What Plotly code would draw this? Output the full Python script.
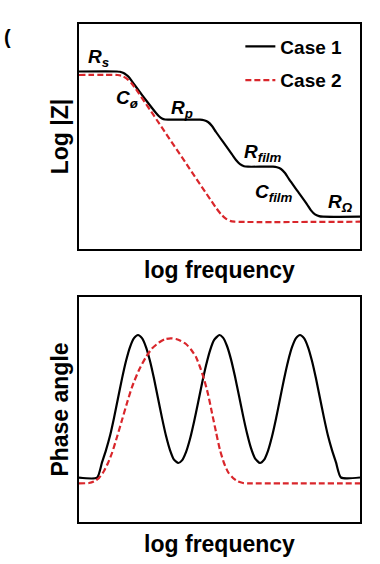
import plotly.graph_objects as go

# ---- data (arbitrary units: log frequency 0-281, log|Z| / phase 0-225) ----
freq_z_case1 = [0, 38, 41, 44, 47, 50, 53, 63.5, 74, 77, 80, 83, 86, 89, 121, 125, 129, 133, 137,
                145, 153, 157, 161, 165, 169, 194, 198, 202, 206, 210, 219, 228, 232, 236, 240, 244, 281]
logz_case1 = [177.5, 177.5, 177.2, 176.2, 174.4, 171.7, 167.6, 153.4, 139.75, 136, 132.7, 130.5, 129.5,
              129.3, 129.3, 128.7, 127, 123, 117, 105.8, 94.6, 89, 84.8, 82.8, 82.3, 82.3, 81.7, 80,
              76, 69.9, 57.3, 44.7, 38.6, 34.6, 32.9, 32.3, 32.3]

freq_z_case2 = [0, 38.4, 42.9, 47.4, 51.9, 56.4, 137.5, 142, 146.5, 151, 155.5, 281]
logz_case2 = [174, 174, 173.2, 170.6, 166.5, 160.6, 40.6, 34.8, 30.6, 28.1, 27.3, 27.3]

freq_p_case1 = [0, 18, 23, 27, 31, 35, 39, 43, 47, 51, 55, 59, 63, 67, 71, 75, 79, 83, 87, 91, 95,
                99.3, 103, 107, 111, 115, 119, 123, 127, 131, 135, 140.3, 144, 148, 152, 156, 160,
                164, 168, 172, 176, 181, 185, 189, 193, 197, 201, 205, 209, 213, 217, 221, 225,
                229, 233, 237, 241, 245, 249, 253, 257, 262, 281]
phase_case1 = [44.3, 44.3, 59.6, 71.9, 86.2, 104.1, 123.8, 143.4, 161.0, 175.0, 183.9, 187, 183.9,
               175.0, 161.0, 143.4, 123.8, 104.1, 86.2, 71.9, 62.3, 59, 61.6, 69.9, 83.0, 100.0,
               119.0, 138.5, 156.4, 171.4, 181.8, 187, 184.4, 176.0, 162.6, 145.4, 126.2, 106.6,
               88.7, 73.8, 63.7, 59, 62.1, 71.2, 85.4, 103.2, 123, 142.8, 160.6, 174.8, 183.9, 187,
               183.9, 175, 161, 143.4, 123.8, 104.1, 86.2, 71.9, 59.6, 44.5, 44.5]

freq_p_case2 = [0, 10, 15, 20, 25, 29, 33, 38, 43, 48, 53, 60, 67, 73, 80, 86, 91.7, 97, 102, 107,
                112, 117, 121, 125, 129, 133, 137, 141, 145, 149, 154, 159, 164, 169, 281]
phase_case2 = [38.7, 39, 40.5, 44, 51, 59, 69, 85, 102, 119, 135, 152, 165, 173.5, 179.5, 182.8,
               183.7, 183, 181, 178, 172.5, 165, 155, 143, 128, 109, 90, 72, 59, 50, 44, 40.5, 39,
               38.7, 38.7]

series_names = ["Case 1", "Case 2"]
labels_text = ["<i>R</i><sub><i>s</i></sub>", "<i>C</i><sub><i>ø</i></sub>",
               "<i>R</i><sub><i>p</i></sub>", "<i>R</i><sub><i>film</i></sub>",
               "<i>C</i><sub><i>film</i></sub>", "<i>R</i><sub><i>Ω</i></sub>"]
labels_x = [19, 48, 103, 184, 195, 261]
labels_y = [191, 150, 140, 96, 56, 46.5]

BLACK = "#000000"
RED = "#d9262b"
FONT = "Liberation Sans, Arial, sans-serif"

fig = go.Figure()
fig.add_trace(go.Scatter(x=freq_z_case1, y=logz_case1, mode="lines", name=f"<b>{series_names[0]}</b>",
                         legendgroup="a", line=dict(color=BLACK, width=2.2, shape="spline", smoothing=0.6),
                         xaxis="x", yaxis="y"))
fig.add_trace(go.Scatter(x=freq_z_case2, y=logz_case2, mode="lines", name=f"<b>{series_names[1]}</b>",
                         legendgroup="b", line=dict(color=RED, width=2.2, dash="6px,3px", shape="spline", smoothing=0.6),
                         xaxis="x", yaxis="y"))
fig.add_trace(go.Scatter(x=freq_p_case1, y=phase_case1, mode="lines", showlegend=False,
                         line=dict(color=BLACK, width=2.2, shape="spline", smoothing=0.6),
                         xaxis="x2", yaxis="y2"))
fig.add_trace(go.Scatter(x=freq_p_case2, y=phase_case2, mode="lines", showlegend=False,
                         line=dict(color=RED, width=2.2, dash="6px,3px", shape="spline", smoothing=0.6),
                         xaxis="x2", yaxis="y2"))

axis_common = dict(showline=True, mirror=True, linecolor="black", linewidth=2, showticklabels=False,
                   ticks="", showgrid=False, zeroline=False, fixedrange=True)
title_font = dict(family=FONT, size=23, color="black")

fig.update_layout(
    width=380, height=564,
    margin=dict(l=79, r=20, t=24, b=42),
    paper_bgcolor="white", plot_bgcolor="white",
    font=dict(family=FONT, color="black"),
    xaxis=dict(domain=[0, 1], range=[0, 281], anchor="y",
               title=dict(text="<b>log frequency</b>", font=title_font, standoff=12), **axis_common),
    yaxis=dict(domain=[0.5482, 1], range=[0, 225], anchor="x",
               title=dict(text="<b>Log |Z|</b>", font=title_font, standoff=2), **axis_common),
    xaxis2=dict(domain=[0, 1], range=[0, 281], anchor="y2",
                title=dict(text="<b>log frequency</b>", font=title_font, standoff=13), **axis_common),
    yaxis2=dict(domain=[0, 0.4518], range=[0, 225], anchor="x2",
                title=dict(text="<b>Phase angle</b>", font=title_font, standoff=2), **axis_common),
    legend=dict(x=0.955, xanchor="right", y=0.993, yanchor="top", bgcolor="rgba(0,0,0,0)",
                font=dict(family=FONT, size=19, color="black"), itemwidth=30,
                tracegroupgap=6, traceorder="grouped"),
    showlegend=True,
)

for t, x, y in zip(labels_text, labels_x, labels_y):
    fig.add_annotation(x=x, y=y, xref="x", yref="y", text=f"<b>{t}</b>", showarrow=False,
                       font=dict(family=FONT, size=19, color="black"))

fig.add_annotation(x=-0.275, y=1.0, xref="paper", yref="paper", text="<b>(</b>", showarrow=False,
                   xanchor="left", yanchor="top", font=dict(family=FONT, size=20, color="black"))

fig.write_html("out.html", config={"displayModeBar": False},
               post_script="document.body.style.margin='0';document.body.style.overflow='hidden';")
